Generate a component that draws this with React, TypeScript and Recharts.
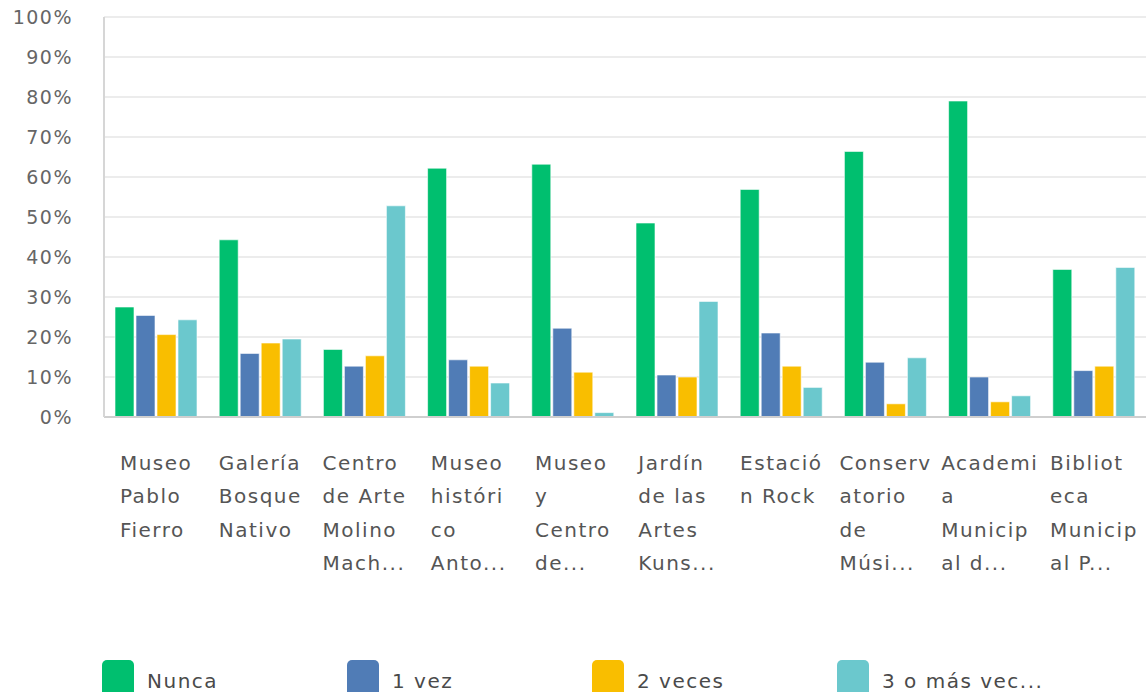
import React from 'react';
import { BarChart, Bar, XAxis, YAxis, CartesianGrid } from 'recharts';

// tick labels, already wrapped and cut the way the survey tool shows them
const categoryLines = [
    ['Museo', 'Pablo', 'Fierro'],
    ['Galería', 'Bosque', 'Nativo'],
    ['Centro', 'de Arte', 'Molino', 'Mach...'],
    ['Museo', 'históri', 'co', 'Anto...'],
    ['Museo', 'y', 'Centro', 'de...'],
    ['Jardín', 'de las', 'Artes', 'Kuns...'],
    ['Estació', 'n Rock'],
    ['Conserv', 'atorio', 'de', 'Músi...'],
    ['Academi', 'a', 'Municip', 'al d...'],
    ['Bibliot', 'eca', 'Municip', 'al P...'],
];

const nunca = [27.5, 44.3, 16.9, 62.2, 63.2, 48.5, 56.9, 66.4, 79.0, 36.9];
const unaVez = [25.4, 15.9, 12.7, 14.3, 22.2, 10.5, 21.0, 13.7, 10.0, 11.6];
const dosVeces = [20.6, 18.5, 15.3, 12.7, 11.2, 10.0, 12.7, 3.3, 3.8, 12.7];
const tresOMas = [24.3, 19.5, 52.8, 8.5, 1.1, 28.9, 7.4, 14.8, 5.3, 37.4];

const yTicks = [0, 10, 20, 30, 40, 50, 60, 70, 80, 90, 100];

const series = [
    { key: 'nunca', name: 'Nunca', color: '#00bf6f' },
    { key: 'unaVez', name: '1 vez', color: '#507cb6' },
    { key: 'dosVeces', name: '2 veces', color: '#f9be00' },
    { key: 'tresOMas', name: '3 o más vec...', color: '#6bc8cd' },
];

const data = categoryLines.map((lines, i) => ({
    name: lines.join(' '),
    nunca: nunca[i],
    unaVez: unaVez[i],
    dosVeces: dosVeces[i],
    tresOMas: tresOMas[i],
}));

const FONT = '"DejaVu Sans", sans-serif';
const LABEL_SIZE = 20;
const LABEL_SPACING = 1.5;

let ctx: CanvasRenderingContext2D | null = null;
function textWidth(text: string) {
    if (!ctx) ctx = document.createElement('canvas').getContext('2d');
    if (!ctx) return text.length * 11;
    ctx.font = `${LABEL_SIZE}px "DejaVu Sans"`;
    return ctx.measureText(text).width + LABEL_SPACING * text.length;
}

function WrappedTick(props: any) {
    const { x, y, payload } = props;
    const lines = categoryLines[payload.index] || [String(payload.value)];
    const blockWidth = Math.max(...lines.map(textWidth));
    const left = x - blockWidth / 2;
    return (
        <text
            x={left}
            y={y}
            fill="#555555"
            fontSize={LABEL_SIZE}
            fontFamily={FONT}
            style={{ letterSpacing: LABEL_SPACING }}
            textAnchor="start"
        >
            {lines.map((line: string, i: number) => (
                <tspan key={i} x={left} y={y + 45 + i * 33.3}>
                    {line}
                </tspan>
            ))}
        </text>
    );
}

export default function App() {
    return (
        <div
            style={{
                position: 'absolute',
                left: 0,
                top: 0,
                width: 1146,
                height: 692,
                overflow: 'hidden',
                background: '#ffffff',
                fontFamily: FONT,
            }}
        >
            <BarChart
                width={1146}
                height={660}
                data={data}
                margin={{ top: 17, right: 0, bottom: 0, left: 0 }}
                barCategoryGap={11}
                barGap={2}
            >
                <CartesianGrid vertical={false} stroke="#ececec" strokeWidth={2} />
                <XAxis
                    dataKey="name"
                    height={243}
                    interval={0}
                    tickLine={false}
                    axisLine={{ stroke: '#cfcfcf', strokeWidth: 2 }}
                    tick={<WrappedTick />}
                />
                <YAxis
                    width={104}
                    domain={[0, 100]}
                    ticks={yTicks}
                    tickFormatter={(v) => `${v}%`}
                    tickLine={false}
                    tickMargin={25}
                    axisLine={{ stroke: '#d6d6d6', strokeWidth: 2 }}
                    tick={{ fill: '#666666', fontSize: 19, fontFamily: FONT, letterSpacing: 1.5 }}
                />
                {series.map((s) => (
                    <Bar
                        key={s.key}
                        dataKey={s.key}
                        name={s.name}
                        fill={s.color}
                        stroke="#ffffff"
                        strokeOpacity={0.6}
                        strokeWidth={1}
                        isAnimationActive={false}
                    />
                ))}
            </BarChart>
            <div style={{ position: 'absolute', left: 102, top: 660, display: 'flex' }}>
                {series.map((s) => (
                    <div key={s.key} style={{ width: 245, display: 'flex', alignItems: 'flex-start' }}>
                        <div style={{ width: 32, height: 40, borderRadius: 5, background: s.color }} />
                        <span
                            style={{
                                marginLeft: 13,
                                marginTop: 6,
                                fontSize: 20,
                                letterSpacing: 1.5,
                                color: '#4a4a4a',
                                lineHeight: '30px',
                            }}
                        >
                            {s.name}
                        </span>
                    </div>
                ))}
            </div>
        </div>
    );
}
